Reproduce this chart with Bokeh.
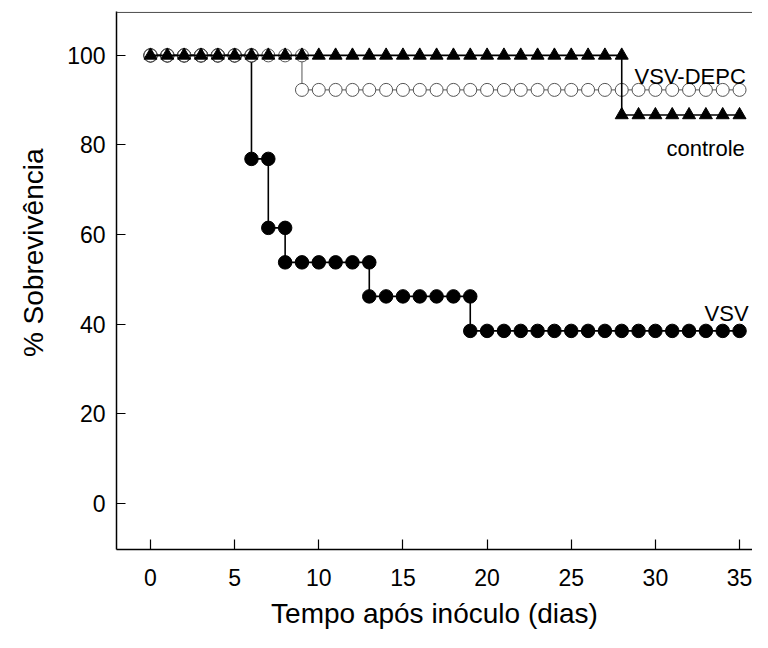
from bokeh.plotting import figure
from bokeh.models import Range1d, FixedTicker, Span, Title
from bokeh.core.properties import value
from bokeh.embed import file_html
from bokeh.resources import INLINE

# ---- data ----
vsv_days = [0, 1, 2, 3, 4, 5, 6, 6, 7, 7, 8, 8, 9, 10, 11, 12, 13, 13, 14, 15, 16, 17, 18, 19,
            19, 20, 21, 22, 23, 24, 25, 26, 27, 28, 29, 30, 31, 32, 33, 34, 35]
vsv_surv = [100, 100, 100, 100, 100, 100, 100, 76.9, 76.9, 61.5, 61.5, 53.8, 53.8, 53.8, 53.8, 53.8, 53.8,
            46.2, 46.2, 46.2, 46.2, 46.2, 46.2, 46.2,
            38.5, 38.5, 38.5, 38.5, 38.5, 38.5, 38.5, 38.5, 38.5, 38.5, 38.5, 38.5, 38.5, 38.5, 38.5, 38.5, 38.5]

depc_days = [0, 1, 2, 3, 4, 5, 6, 7, 8, 9, 9, 10, 11, 12, 13, 14, 15, 16, 17, 18, 19, 20, 21, 22,
             23, 24, 25, 26, 27, 28, 29, 30, 31, 32, 33, 34, 35]
depc_surv = [100, 100, 100, 100, 100, 100, 100, 100, 100, 100,
             92.3, 92.3, 92.3, 92.3, 92.3, 92.3, 92.3, 92.3, 92.3, 92.3, 92.3, 92.3, 92.3, 92.3,
             92.3, 92.3, 92.3, 92.3, 92.3, 92.3, 92.3, 92.3, 92.3, 92.3, 92.3, 92.3, 92.3]

ctrl_days = [0, 1, 2, 3, 4, 5, 6, 7, 8, 9, 10, 11, 12, 13, 14, 15, 16, 17, 18, 19, 20, 21, 22, 23,
             24, 25, 26, 27, 28, 28, 29, 30, 31, 32, 33, 34, 35]
ctrl_surv = [100, 100, 100, 100, 100, 100, 100, 100, 100, 100, 100, 100, 100, 100, 100, 100, 100,
             100, 100, 100, 100, 100, 100, 100, 100, 100, 100, 100, 100,
             86.7, 86.7, 86.7, 86.7, 86.7, 86.7, 86.7, 86.7]

x_ticks = [0, 5, 10, 15, 20, 25, 30, 35]
y_ticks = [0, 20, 40, 60, 80, 100]

series_labels = ["VSV-DEPC", "controle", "VSV"]
label_x = [28.76, 30.66, 32.92]
label_y = [95.2, 79.2, 42.4]

x_title = "Tempo após inóculo (dias)"
y_title = "% Sobrevivência"

FONT = "Liberation Sans"

p = figure(width=752, height=632,
           x_range=Range1d(-2.02, 35.77), y_range=Range1d(-10.3, 109.8),
           output_backend="svg", toolbar_location=None,
           min_border_left=116, min_border_right=0, min_border_top=11, min_border_bottom=83)

p.grid.visible = False
p.outline_line_color = None
p.background_fill_color = "white"
p.border_fill_color = "white"

# axes
for ax in (p.xaxis[0], p.yaxis[0]):
    ax.axis_line_color = "black"
    ax.axis_line_width = 1.5
    ax.major_tick_line_color = "black"
    ax.major_tick_line_width = 1.2
    ax.major_tick_out = 0
    ax.minor_tick_line_color = None
    ax.major_label_text_font = FONT
    ax.major_label_text_font_size = "23px"
    ax.major_label_text_color = "black"
    ax.axis_label_text_font = FONT
    ax.axis_label_text_font_size = "28px"
    ax.axis_label_text_font_style = "normal"
    ax.axis_label_text_color = "black"

p.xaxis.ticker = FixedTicker(ticks=x_ticks)
p.yaxis.ticker = FixedTicker(ticks=y_ticks)
p.xaxis.major_tick_in = 10
p.yaxis.major_tick_in = 9
p.xaxis.major_label_standoff = 19
p.yaxis.major_label_standoff = 11
p.xaxis.axis_label = x_title
p.xaxis.axis_label_standoff = 9

# y title as a side title so it can be shifted along the axis
p.add_layout(Title(text=y_title, align="right", offset=137, standoff=31,
                   text_font=FONT, text_font_size="28px", text_font_style="normal",
                   text_color="black"), "left")

# top border
p.add_layout(Span(location=109.6, dimension="width", line_color="#444444", line_width=1))

# VSV (filled circles)
p.line(vsv_days, vsv_surv, line_color="black", line_width=1.6)
p.scatter(vsv_days, vsv_surv, marker="circle", size=13.5, fill_color="black", line_color="black")

# VSV-DEPC (open circles)
p.line(depc_days, depc_surv, line_color="#555555", line_width=1)
p.scatter(depc_days, depc_surv, marker="circle", size=13, fill_color="white", line_color="#555555",
          line_width=1)

# controle (filled triangles)
p.line(ctrl_days, ctrl_surv, line_color="black", line_width=1.6)
p.scatter(ctrl_days, ctrl_surv, marker="triangle", size=13, fill_color="black", line_color="black")

p.text(x=label_x, y=label_y, text=series_labels, text_font=value(FONT), text_font_size="22px",
       text_color="black", text_baseline="alphabetic", text_align="left")

open("out.html", "w").write(file_html(p, INLINE))
